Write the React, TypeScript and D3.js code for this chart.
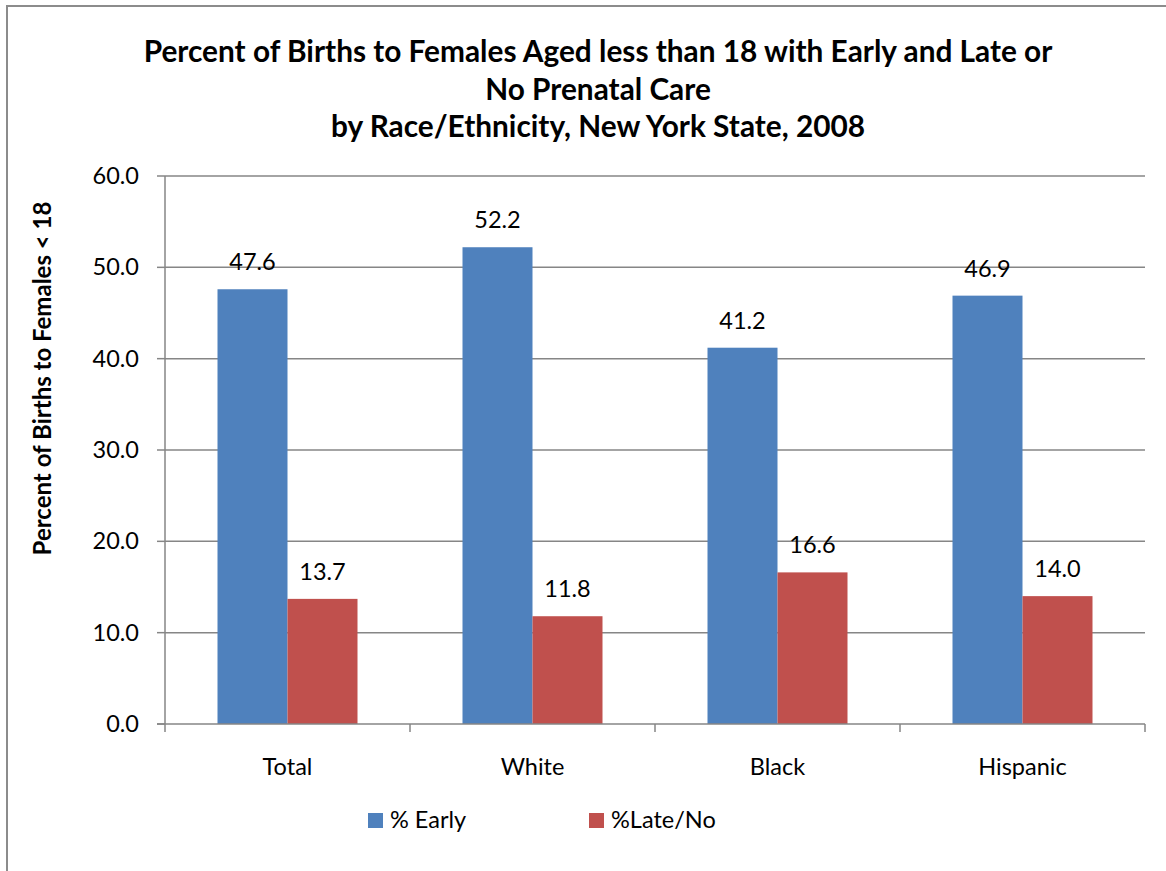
import React from "react";
import * as d3 from "d3";

const categories = ["Total", "White", "Black", "Hispanic"];
const seriesNames = ["% Early", "%Late/No"];
const earlyValues = [47.6, 52.2, 41.2, 46.9];
const lateValues = [13.7, 11.8, 16.6, 14.0];
const yTicks = [0, 10, 20, 30, 40, 50, 60];
const titleLines = [
  "Percent of Births to Females Aged less than 18 with Early and Late or",
  "No Prenatal Care",
  "by Race/Ethnicity, New York State, 2008",
];
const yAxisTitle = "Percent of Births to Females < 18";
const colors = ["#4F81BD", "#C0504D"];

const FONT = "Lato, 'Open Sans', sans-serif";

export default function App() {
  const W = 1166;
  const H = 871;
  const left = 165;
  const right = 1145;
  const top = 176;
  const bottom = 724;

  const x = d3.scaleBand<string>().domain(categories).range([left, right]).paddingInner(0).paddingOuter(0);
  const xs = d3.scaleBand<string>().domain(seriesNames).range([0, x.bandwidth()]).paddingInner(0).paddingOuter(0.75);
  const y = d3.scaleLinear().domain([0, 60]).range([bottom, top]);
  const seriesValues = [earlyValues, lateValues];
  const grid = "#868686";
  const boundaries = categories.map((c) => x(c)!).concat([right]);
  const fs = 23.5;

  return (
    <svg width={W} height={H} style={{ position: "absolute", left: 0, top: 0, background: "#fff" }} fontFamily={FONT}>
      <rect x={7} y={6} width={1300} height={1000} fill="#fff" stroke="#8c8c8c" strokeWidth={2} />
      {titleLines.map((t, i) => (
        <text key={i} x={598} y={62 + i * 37.5} textAnchor="middle" fontWeight="bold" fontSize={29.8} fill="#000">
          {t}
        </text>
      ))}
      {yTicks.filter((t) => t > 0).map((t) => (
        <line key={t} x1={left} x2={right} y1={y(t)} y2={y(t)} stroke={grid} strokeWidth={1.5} />
      ))}
      {seriesValues.map((vals, si) =>
        categories.map((c, ci) => (
          <rect
            key={`${si}-${ci}`}
            x={x(c)! + xs(seriesNames[si])!}
            y={y(vals[ci])}
            width={xs.bandwidth()}
            height={y(0) - y(vals[ci])}
            fill={colors[si]}
          />
        ))
      )}
      {seriesValues.map((vals, si) =>
        categories.map((c, ci) => (
          <text
            key={`l${si}-${ci}`}
            x={x(c)! + xs(seriesNames[si])! + xs.bandwidth() / 2}
            y={y(vals[ci]) - 19}
            textAnchor="middle"
            fontSize={fs}
            fill="#000"
          >
            {vals[ci].toFixed(1)}
          </text>
        ))
      )}
      <line x1={left} x2={left} y1={top} y2={bottom} stroke={grid} strokeWidth={1.5} />
      <line x1={left - 8} x2={right} y1={bottom} y2={bottom} stroke={grid} strokeWidth={1.5} />
      {yTicks.map((t) => (
        <g key={`t${t}`}>
          <line x1={left - 8} x2={left} y1={y(t)} y2={y(t)} stroke={grid} strokeWidth={1.5} />
          <text x={139} y={y(t) + 8} textAnchor="end" fontSize={fs} fill="#000">
            {t.toFixed(1)}
          </text>
        </g>
      ))}
      {boundaries.map((b, i) => (
        <line key={`b${i}`} x1={b} x2={b} y1={bottom} y2={bottom + 8} stroke={grid} strokeWidth={1.5} />
      ))}
      {categories.map((c) => (
        <text key={c} x={x(c)! + x.bandwidth() / 2} y={775} textAnchor="middle" fontSize={fs} fill="#000">
          {c}
        </text>
      ))}
      <text
        transform={`translate(51, ${(197 + 560) / 2}) rotate(-90)`}
        textAnchor="middle"
        fontWeight="bold"
        fontSize={24}
        fill="#000"
      >
        {yAxisTitle}
      </text>
      {seriesNames.map((s, i) => (
        <g key={s} transform={`translate(${368 + i * 221}, 813)`}>
          <rect x={0} y={0} width={15} height={15} fill={colors[i]} />
          <text x={22} y={15} fontSize={fs} fill="#000">
            {s}
          </text>
        </g>
      ))}
    </svg>
  );
}
